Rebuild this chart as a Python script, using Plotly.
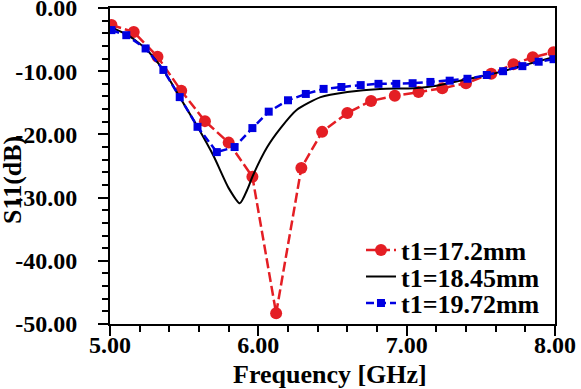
import plotly.graph_objects as go

# Red: t1 = 17.2 mm
red_x = [5.01, 5.16, 5.32, 5.48, 5.64, 5.80, 5.96, 6.12, 6.29, 6.43, 6.60, 6.76, 6.92,
         7.08, 7.24, 7.40, 7.57, 7.72, 7.85, 7.99]
red_y = [-2.7, -3.8, -7.7, -13.1, -17.9, -21.3, -26.7, -48.3, -25.3, -19.6, -16.6, -14.7,
         -13.9, -13.3, -12.7, -11.9, -10.4, -8.9, -7.8, -7.0]

# Black: t1 = 18.45 mm
black_x = [5.00, 5.12, 5.24, 5.36, 5.47, 5.59, 5.70, 5.80, 5.875, 5.93, 5.96, 6.06, 6.15,
           6.26, 6.42, 6.60, 6.82, 7.05, 7.20, 7.40, 7.60, 7.80, 8.00]
black_y = [-3.0, -4.3, -6.4, -9.8, -14.1, -18.8, -23.5, -28.5, -30.9, -28.5, -26.7, -22.0,
           -19.0, -16.1, -14.1, -13.3, -12.8, -12.7, -12.3, -11.3, -10.3, -9.0, -7.7]

# Blue: t1 = 19.72 mm
blue_x = [5.01, 5.11, 5.24, 5.36, 5.47, 5.59, 5.72, 5.84, 5.96, 6.07, 6.20, 6.32, 6.44,
          6.56, 6.69, 6.81, 6.93, 7.04, 7.16, 7.29, 7.41, 7.54, 7.65, 7.78, 7.89, 7.99]
blue_y = [-3.5, -4.3, -6.4, -9.8, -14.1, -18.8, -22.8, -22.0, -19.0, -16.4, -14.6, -13.6,
          -12.8, -12.5, -12.2, -12.0, -12.0, -11.9, -11.7, -11.5, -11.2, -10.6, -10.0,
          -9.2, -8.5, -8.1]

names = ["t1=17.2mm", "t1=18.45mm", "t1=19.72mm"]

x_tick_vals = [5, 6, 7, 8]
x_tick_labels = ["5.00", "6.00", "7.00", "8.00"]
y_tick_vals = [0, -10, -20, -30, -40, -50]
y_tick_labels = ["0.00", "-10.00", "-20.00", "-30.00", "-40.00", "-50.00"]

x_title = "Frequency [GHz]"
y_title = "S11(dB)"

RED = "rgb(228,30,36)"
BLUE = "rgb(0,0,225)"
FONT = "Liberation Serif"

fig = go.Figure()
fig.add_trace(go.Scatter(
    x=red_x, y=red_y, name=names[0], mode="lines+markers", legend="legend",
    line=dict(color=RED, width=2.5, dash="10px,4px"),
    marker=dict(symbol="circle", size=12, color=RED),
))
fig.add_trace(go.Scatter(
    x=black_x, y=black_y, name=names[1], mode="lines", legend="legend2",
    line=dict(color="black", width=2, shape="spline", smoothing=0.6),
))
fig.add_trace(go.Scatter(
    x=blue_x, y=blue_y, name=names[2], mode="lines+markers", legend="legend3",
    line=dict(color=BLUE, width=2.5, dash="8px,4px"),
    marker=dict(symbol="square", size=8, color=BLUE),
))
for tr in fig.data:
    tr.showlegend = True

axis_common = dict(
    showgrid=False, zeroline=False, showline=True, linecolor="black", linewidth=2,
    mirror=True, ticks="outside", ticklen=10, tickwidth=1.5, tickcolor="black",
    ticklabeloverflow="allow", automargin=False,
    tickfont=dict(family=FONT, size=24, color="black", weight="bold"),
)

fig.update_xaxes(
    range=[5, 8], tickvals=x_tick_vals, ticktext=x_tick_labels, ticklabelstandoff=-12,
    minor=dict(dtick=0.2, ticks="outside", ticklen=6, tickwidth=1.5, tickcolor="black"),
    **axis_common,
)
fig.update_yaxes(
    range=[-50, 0], tickvals=y_tick_vals, ticktext=y_tick_labels, ticklabelstandoff=16,
    minor=dict(dtick=2, ticks="outside", ticklen=6, tickwidth=1.5, tickcolor="black"),
    **axis_common,
)

fig.add_annotation(
    text=x_title, xref="paper", yref="paper", x=0.494, y=-0.160,
    xanchor="center", yanchor="middle", showarrow=False,
    font=dict(family=FONT, size=26, color="black", weight="bold"),
)
fig.add_annotation(
    text=y_title, xref="paper", yref="paper", x=-0.218, y=0.456, textangle=-90,
    xanchor="center", yanchor="middle", showarrow=False,
    font=dict(family=FONT, size=26, color="black", weight="bold"),
)

leg_font = dict(family=FONT, size=26, color="black", weight="bold")
leg_common = dict(xanchor="left", yanchor="middle", x=0.564, bgcolor="rgba(0,0,0,0)",
                  itemwidth=30, font=leg_font, borderwidth=0)

fig.update_layout(
    width=581, height=389,
    margin=dict(l=110, r=26, t=8, b=65, autoexpand=False),
    paper_bgcolor="white", plot_bgcolor="white",
    showlegend=True,
    legend=dict(y=0.234, **leg_common),
    legend2=dict(y=0.150, **leg_common),
    legend3=dict(y=0.066, **leg_common),
)

fig.write_html("out.html", config={"displayModeBar": False},
               post_script="document.body.style.margin='0px';")
